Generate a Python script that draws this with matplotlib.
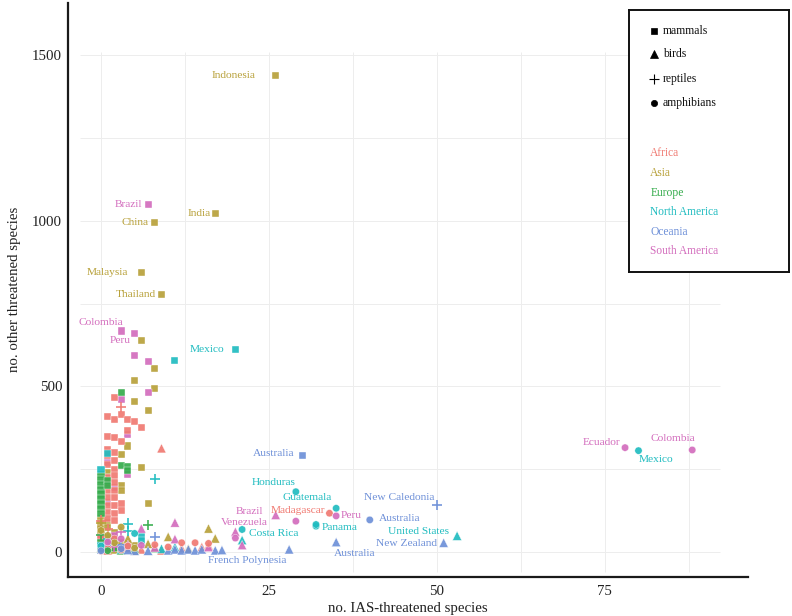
import matplotlib
matplotlib.use("Agg")
import matplotlib.pyplot as plt

plt.rcParams['font.family'] = ['Liberation Serif', 'DejaVu Serif']

# ---------------- data ----------------
regions = ['Africa', 'Asia', 'Europe', 'North America', 'Oceania', 'South America']
region_colors = ['#F07A72', '#B8A13A', '#35AC4C', '#20BCC0', '#6E90D8', '#D36DBD']
taxa = ['mammals', 'birds', 'reptiles', 'amphibians']
x_ticks = [0, 25, 50, 75]
y_ticks = [0, 500, 1000, 1500]

# mammals: x = IAS-threatened, y = other threatened, r = region
mammals_x = [26, 8, 17, 6, 9, 6, 8, 5, 8, 5, 7, 4, 3, 6, 7, 3, 3, 1, 1, 0, 0, 0, 0, 1, 1, 2, 1, 3, 2, 0, 4, 5,
             7, 3, 5, 5, 7, 7, 3, 4, 4, 1, 2, 1, 0, 1, 2,
             2, 1, 2, 3, 4, 5, 6, 4, 1, 2, 3, 1, 1, 2, 1, 2, 2, 1, 2, 1, 2, 1, 2, 1, 2, 1, 2, 3, 3, 1, 2, 1, 2, 0, 1, 2, 0, 3, 4,
             3, 3, 4, 4, 0, 0, 0, 0, 0, 0, 0, 0, 0, 1, 1, 0, 1, 0,
             20, 11, 1, 0, 6, 6, 2, 0,
             30, 0, 1, 3]
mammals_y = [1439, 995, 1022, 844, 776, 637, 554, 517, 493, 453, 427, 320, 294, 254, 147, 202, 187, 240, 225, 100, 85, 70, 55, 90, 75, 60, 45, 30, 15, 25, 10, 20,
             1049, 667, 660, 594, 575, 482, 460, 356, 233, 270, 195, 150, 45, 30, 50,
             466, 408, 400, 414, 400, 395, 375, 368, 348, 346, 334, 310, 290, 300, 265, 275, 250, 225, 230, 205, 210, 185, 185, 165, 165, 140, 140, 145, 125, 120, 115, 100, 95, 40, 25, 10, 10, 5, 25,
             482, 262, 258, 245, 235, 220, 205, 190, 175, 160, 145, 130, 115, 215, 200, 30, 10, 15,
             610, 577, 296, 248, 46, 36, 31, 20,
             290, 5, 15, 15]
mammals_r = ['Asia'] * 32 + ['South America'] * 15 + ['Africa'] * 39 + ['Europe'] * 18 + ['North America'] * 8 + ['Oceania'] * 4

birds_x = [9, 2, 4, 6, 12, 15, 16, 1, 9,
           16, 17, 10, 4, 2, 7, 13, 5,
           0, 2, 5, 8, 3,
           53, 21, 3, 9, 11,
           35, 51, 28, 10, 11, 12, 13, 14, 15, 17, 18, 7, 5, 4,
           26, 20, 21, 11, 6, 11, 16, 4, 8]
birds_y = [313, 20, 12, 8, 12, 15, 20, 5, 5,
           71, 41, 46, 41, 8, 25, 10, 5,
           12, 15, 10, 12, 5,
           49, 36, 8, 10, 15,
           30, 28, 8, 5, 8, 5, 8, 5, 8, 5, 6, 4, 4, 6,
           112, 61, 21, 89, 71, 39, 15, 22, 14]
birds_r = ['Africa'] * 9 + ['Asia'] * 8 + ['Europe'] * 5 + ['North America'] * 5 + ['Oceania'] * 14 + ['South America'] * 9

reptiles_x = [3, 0, 1, 0, 2, 7, 0, 8, 4, 4, 1, 50, 8, 3, 3, 2]
reptiles_y = [438, 95, 70, 88, 28, 81, 50, 221, 86, 63, 40, 141, 46, 20, 60, 15]
reptiles_r = ['Africa'] * 3 + ['Asia'] * 2 + ['Europe'] * 2 + ['North America'] * 4 + ['Oceania'] * 3 + ['South America'] * 2

amphibians_x = [34, 12, 14, 16, 2, 4, 1, 8, 10, 0, 3,
                0, 1, 3, 2, 5,
                0, 1,
                29, 35, 32, 32, 21, 80, 5, 0,
                40, 0, 3,
                78, 88, 35, 29, 20, 3, 1, 6]
amphibians_y = [117, 28, 28, 26, 40, 18, 10, 22, 15, 3, 6,
                65, 50, 75, 28, 12,
                8, 4,
                182, 132, 78, 83, 68, 306, 56, 18,
                97, 4, 10,
                315, 308, 109, 93, 42, 40, 30, 20]
amphibians_r = ['Africa'] * 11 + ['Asia'] * 5 + ['Europe'] * 2 + ['North America'] * 8 + ['Oceania'] * 3 + ['South America'] * 8

# labelled countries: text, region, x, y of the labelled point
label_text = ['Indonesia', 'Brazil', 'China', 'India', 'Malaysia', 'Thailand', 'Colombia', 'Peru', 'Mexico',
              'Australia', 'Honduras', 'Guatemala', 'Madagascar', 'Peru', 'Brazil', 'Venezuela', 'Costa Rica',
              'Panama', 'New Caledonia', 'Australia', 'United States', 'New Zealand', 'Australia',
              'French Polynesia', 'Ecuador', 'Mexico', 'Colombia']
label_region = ['Asia', 'South America', 'Asia', 'Asia', 'Asia', 'Asia', 'South America', 'South America',
                'North America', 'Oceania', 'North America', 'North America', 'Africa', 'South America',
                'South America', 'South America', 'North America', 'North America', 'Oceania', 'Oceania',
                'North America', 'Oceania', 'Oceania', 'Oceania', 'South America', 'North America', 'South America']
label_x = [26, 7, 8, 17, 6, 9, 3, 5, 20, 30, 29, 35, 34, 35, 26, 20, 21, 32, 50, 40, 53, 51, 35, 28, 78, 80, 88]
label_y = [1439, 1049, 995, 1022, 844, 776, 667, 660, 610, 290, 182, 132, 117, 109, 112, 61, 68, 78, 141, 97, 49, 28, 30, 8, 315, 306, 308]
# text placement (pixel offsets, alignment)
label_dx = [-20, -6, -6, -5, -13, -6, 2, -4, -11, -8, 0, -4, -4, 5, -12, 9, 7, 6, -3, 9, -8, -7, -2, -3, -5, 0, 3]
label_dy = [0, 0, 0, 0, 0, 0, 9, -7, 0, 2, 9, 11, 3, 0, 3, 9, -4, -1, 8, 1, 4, -1, -11, -11, 5, -9, 11]
label_ha = ['right', 'right', 'right', 'right', 'right', 'right', 'right', 'right', 'right', 'right', 'right',
            'right', 'right', 'left', 'right', 'center', 'left', 'left', 'right', 'left', 'right', 'right',
            'left', 'right', 'right', 'left', 'right']

# ---------------- figure ----------------
fig = plt.figure(figsize=(7.92, 6.16), dpi=100)
W, H = 792, 616
ax = fig.add_axes([67.7 / W, 1 - 576.7 / H, (748 - 67.7) / W, (576.7 - 3) / H])
ax.set_xlim(-4.96, 96.3)
ax.set_ylim(-74.5, 1657)

# grid (panel area only)
grid_c = '#EDEDED'
gx = [i * 12.5 for i in range(8)]
gy = [i * 250 for i in range(7)]
ax.vlines(gx, -60, 1509, colors=grid_c, lw=0.7, zorder=0)
ax.hlines(gy, -3.1, 92.1, colors=grid_c, lw=0.7, zorder=0)

cmap = dict(zip(regions, region_colors))
styles = {
    'mammals': dict(marker='s', s=26),
    'birds': dict(marker='^', s=44),
    'reptiles': dict(marker='+', s=55, linewidths=1.2),
    'amphibians': dict(marker='o', s=28),
}
series = {
    'mammals': (mammals_x, mammals_y, mammals_r),
    'birds': (birds_x, birds_y, birds_r),
    'reptiles': (reptiles_x, reptiles_y, reptiles_r),
    'amphibians': (amphibians_x, amphibians_y, amphibians_r),
}
for t in taxa:
    xs, ys, rs = series[t]
    cols = [cmap[r] for r in rs]
    st = styles[t]
    if st['marker'] == '+':
        ax.scatter(xs, ys, c=cols, marker='+', s=st['s'], linewidths=st['linewidths'], alpha=0.95, zorder=3)
    else:
        ax.scatter(xs, ys, c=cols, marker=st['marker'], s=st['s'], edgecolors='white', linewidths=0.3,
                   alpha=0.92, zorder=3)

for txt, reg, x, y, dx, dy, ha in zip(label_text, label_region, label_x, label_y, label_dx, label_dy, label_ha):
    ax.annotate(txt, (x, y), xytext=(dx, dy), textcoords='offset pixels', ha=ha, va='center',
                fontsize=8.2, color=cmap[reg], zorder=4)

for s in ['top', 'right']:
    ax.spines[s].set_visible(False)
for s in ['left', 'bottom']:
    ax.spines[s].set_linewidth(1.6)
    ax.spines[s].set_color('#1a1a1a')
ax.set_xticks(x_ticks)
ax.set_yticks(y_ticks)
ax.tick_params(length=0, labelsize=10.7, colors='#222222')
ax.tick_params(axis='x', pad=6)
ax.tick_params(axis='y', pad=4)
ax.set_xlabel('no. IAS-threatened species', fontsize=10.7, color='#222222', labelpad=3)
ax.set_ylabel('no. other threatened species', fontsize=10.7, color='#222222', labelpad=8)

# ---------------- legend box ----------------
L, T, R, B = 629.3, 10, 789, 272
lax = fig.add_axes([L / W, 1 - B / H, (R - L) / W, (B - T) / H])
lax.set_xlim(L, R)
lax.set_ylim(B, T)
lax.set_xticks([])
lax.set_yticks([])
for s in lax.spines.values():
    s.set_linewidth(1.4)
    s.set_color('#111111')
leg_y = [31, 54, 79.3, 102.7]
leg_m = ['s', '^', '+', 'o']
leg_ms = [4.5, 5.5, 7, 4.5]
for t, yy, m, ms in zip(taxa, leg_y, leg_m, leg_ms):
    lax.plot([654.3], [yy], marker=m, ms=ms, color='black', mew=0.8 if m == '+' else 0.5, ls='none')
    lax.text(662.7, yy, t, fontsize=8.4, va='center', ha='left', color='#111111')
reg_y = [152.7, 172.7, 192.7, 212, 231.7, 251.3]
for r, c, yy in zip(regions, region_colors, reg_y):
    lax.text(650.3, yy, r, fontsize=8.3, va='center', ha='left', color=c)

fig.savefig('out.png', dpi=100)
